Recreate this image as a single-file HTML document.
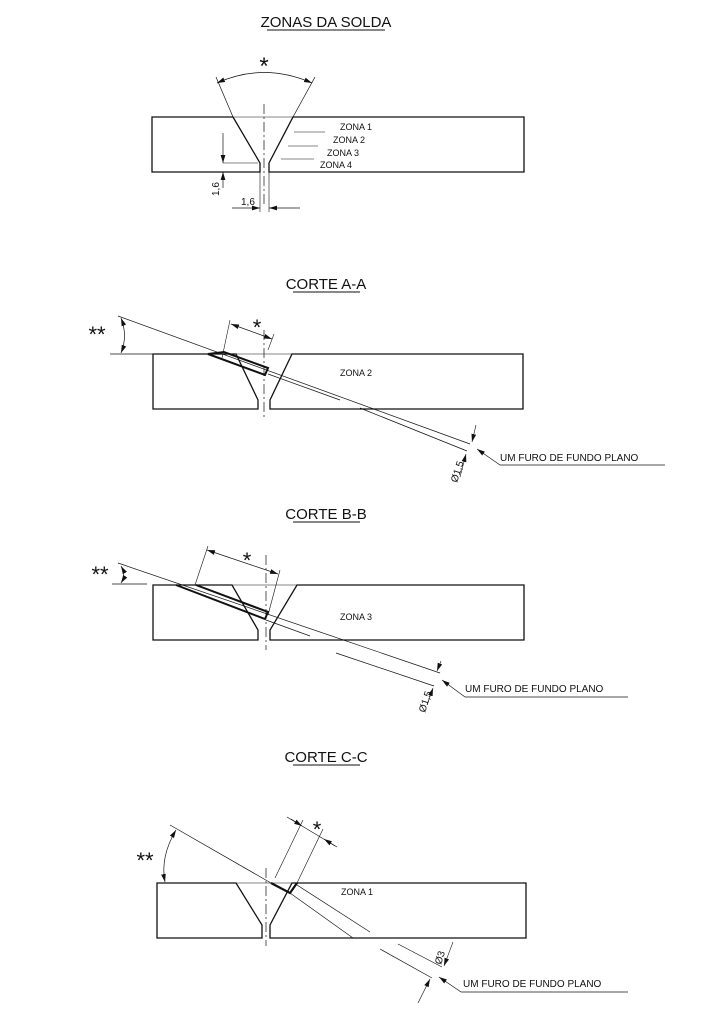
<!DOCTYPE html>
<html><head><meta charset="utf-8"><style>
html,body{margin:0;padding:0;background:#fff;}
svg{display:block;}
text{font-family:"Liberation Sans",Arial,sans-serif;fill:#111;}
</style></head><body>
<svg width="715" height="1026" viewBox="0 0 715 1026" xmlns="http://www.w3.org/2000/svg">
<defs>
<marker id="a" viewBox="0 0 10 6" refX="10" refY="3" markerWidth="8" markerHeight="5" orient="auto-start-reverse" markerUnits="userSpaceOnUse"><path d="M0,0L10,3L0,6z" fill="#111"/></marker>
</defs>
<g stroke="#111" fill="none" stroke-width="1">

<!-- ZONAS DA SOLDA -->
<text x="326" y="27" font-size="15" text-anchor="middle" stroke="none">ZONAS DA SOLDA</text>
<line x1="267" y1="30" x2="385" y2="30" stroke-width="1"/>
<path d="M152,117H233L260,163V172H152Z" stroke-width="1.3"/>
<path d="M293,117H524V172H269V163Z" stroke-width="1.3"/>
<line x1="233" y1="117" x2="293" y2="117" stroke-width="0.6"/>
<line x1="264" y1="104" x2="264" y2="207" stroke-dasharray="10,3,2,3" stroke-width="0.7"/>
<line x1="233" y1="117" x2="216" y2="77" stroke-width="0.7"/>
<line x1="293" y1="117" x2="315" y2="77" stroke-width="0.7"/>
<path d="M217,83 Q264,62 312,83" marker-start="url(#a)" marker-end="url(#a)" stroke-width="0.8"/>
<text x="264" y="74" font-size="24" text-anchor="middle" stroke="none">*</text>
<line x1="294" y1="132" x2="325" y2="132" stroke-width="0.6"/>
<line x1="288" y1="146" x2="318" y2="146" stroke-width="0.6"/>
<line x1="281" y1="159" x2="314" y2="159" stroke-width="0.6"/>
<text x="340" y="130" font-size="9" stroke="none">ZONA 1</text>
<text x="333" y="143" font-size="9" stroke="none">ZONA 2</text>
<text x="327" y="156" font-size="9" stroke="none">ZONA 3</text>
<text x="320" y="168" font-size="9" stroke="none">ZONA 4</text>
<line x1="223" y1="133" x2="223" y2="163" marker-end="url(#a)" stroke-width="0.7"/>
<line x1="223" y1="163" x2="258" y2="163" stroke-width="0.6"/>
<line x1="223" y1="188" x2="223" y2="172" marker-end="url(#a)" stroke-width="0.7"/>
<text transform="translate(219,196) rotate(-90)" font-size="10" stroke="none">1,6</text>
<line x1="260" y1="172" x2="260" y2="212" stroke-width="0.6"/>
<line x1="269" y1="172" x2="269" y2="212" stroke-width="0.6"/>
<line x1="232" y1="208" x2="260" y2="208" marker-end="url(#a)" stroke-width="0.7"/>
<line x1="300" y1="208" x2="269" y2="208" marker-end="url(#a)" stroke-width="0.7"/>
<text x="241" y="205" font-size="10" stroke="none">1,6</text>

<!-- CORTE A-A -->
<text x="326" y="289" font-size="15" text-anchor="middle" stroke="none">CORTE  A-A</text>
<line x1="293" y1="292" x2="360" y2="292"/>
<path d="M153,354H236L258,400V409H153Z" stroke-width="1.3"/>
<path d="M292,354H523V409H270V400Z" stroke-width="1.3"/>
<line x1="236" y1="354" x2="292" y2="354" stroke-width="0.6"/>
<line x1="264" y1="330" x2="264" y2="417" stroke-dasharray="10,3,2,3" stroke-width="0.7"/>
<line x1="110" y1="354" x2="160" y2="354" stroke-width="0.7"/>
<line x1="118" y1="316" x2="470" y2="444" stroke-width="0.7"/>
<line x1="268" y1="374" x2="340" y2="400" stroke-width="0.7"/>
<line x1="360" y1="408" x2="467" y2="451" stroke-width="0.7"/>
<path d="M121,318 Q128,336 121,353" marker-start="url(#a)" marker-end="url(#a)" stroke-width="0.7"/>
<text x="97" y="342" font-size="22" text-anchor="middle" stroke="none">**</text>
<path d="M208,354L265,375L268,368L224,352Z" stroke-width="2"/>
<line x1="222" y1="358" x2="230" y2="320" stroke-width="0.6"/>
<line x1="268" y1="350" x2="274" y2="334" stroke-width="0.6"/>
<line x1="231" y1="324" x2="272" y2="339" marker-start="url(#a)" marker-end="url(#a)" stroke-width="0.7"/>
<text x="257" y="335" font-size="22" text-anchor="middle" stroke="none">*</text>
<text x="340" y="376" font-size="9" stroke="none">ZONA 2</text>
<line x1="476" y1="425" x2="472" y2="442" marker-end="url(#a)" stroke-width="0.6"/>
<line x1="460" y1="477" x2="466" y2="454" marker-end="url(#a)" stroke-width="0.6"/>
<text transform="translate(457,483) rotate(-72)" font-size="10" stroke="none">Ø1,5</text>
<path d="M500,465L477,449" marker-end="url(#a)" stroke-width="0.7"/>
<line x1="500" y1="465" x2="665" y2="465" stroke-width="0.7"/>
<text x="500" y="461" font-size="10" stroke="none">UM FURO DE FUNDO PLANO</text>

<!-- CORTE B-B -->
<text x="326" y="519" font-size="15" text-anchor="middle" stroke="none">CORTE  B-B</text>
<line x1="293" y1="522" x2="360" y2="522"/>
<path d="M153,585H232L258,630V640H153Z" stroke-width="1.3"/>
<path d="M297,585H524V640H270V630Z" stroke-width="1.3"/>
<line x1="232" y1="585" x2="297" y2="585" stroke-width="0.6"/>
<line x1="266" y1="555" x2="266" y2="650" stroke-dasharray="10,3,2,3" stroke-width="0.7"/>
<line x1="112" y1="584" x2="147" y2="584" stroke-width="0.7"/>
<line x1="118" y1="563" x2="440" y2="673" stroke-width="0.7"/>
<line x1="266" y1="620" x2="310" y2="636" stroke-width="0.7"/>
<line x1="336" y1="653" x2="434" y2="686" stroke-width="0.7"/>
<path d="M121,566 Q126,575 121,583" marker-start="url(#a)" marker-end="url(#a)" stroke-width="0.7"/>
<text x="100" y="582" font-size="22" text-anchor="middle" stroke="none">**</text>
<path d="M176,585L265,619L268,612L196,585" stroke-width="2"/>
<line x1="195" y1="585" x2="208" y2="546" stroke-width="0.6"/>
<line x1="268" y1="615" x2="280" y2="570" stroke-width="0.6"/>
<line x1="207" y1="550" x2="278" y2="574" marker-start="url(#a)" marker-end="url(#a)" stroke-width="0.7"/>
<text x="247" y="568" font-size="22" text-anchor="middle" stroke="none">*</text>
<text x="340" y="620" font-size="9" stroke="none">ZONA 3</text>
<line x1="441" y1="661" x2="437" y2="671" marker-end="url(#a)" stroke-width="0.6"/>
<line x1="427" y1="705" x2="433" y2="688" marker-end="url(#a)" stroke-width="0.6"/>
<text transform="translate(425,713) rotate(-72)" font-size="10" stroke="none">Ø1,5</text>
<path d="M465,697L442,680" marker-end="url(#a)" stroke-width="0.7"/>
<line x1="465" y1="697" x2="628" y2="697" stroke-width="0.7"/>
<text x="465" y="692" font-size="10" stroke="none">UM FURO DE FUNDO PLANO</text>

<!-- CORTE C-C -->
<text x="326" y="762" font-size="15" text-anchor="middle" stroke="none">CORTE  C-C</text>
<line x1="293" y1="765" x2="360" y2="765"/>
<path d="M157,883H236L262,925V938H157Z" stroke-width="1.3"/>
<path d="M292,883H526V938H270V925Z" stroke-width="1.3"/>
<line x1="236" y1="883" x2="292" y2="883" stroke-width="0.6"/>
<line x1="266" y1="868" x2="266" y2="946" stroke-dasharray="10,3,2,3" stroke-width="0.7"/>
<line x1="170" y1="825" x2="271" y2="883" stroke-width="0.7"/>
<path d="M271,883L290,893L297,883" stroke-width="2.2"/>
<line x1="297" y1="885" x2="370" y2="932" stroke-width="0.7"/>
<line x1="290" y1="893" x2="353" y2="938" stroke-width="0.7"/>
<path d="M176,830 Q160,857 165,882" marker-start="url(#a)" marker-end="url(#a)" stroke-width="0.7"/>
<text x="145" y="868" font-size="22" text-anchor="middle" stroke="none">**</text>
<line x1="275" y1="878" x2="303" y2="820" stroke-width="0.6"/>
<line x1="297" y1="883" x2="323" y2="829" stroke-width="0.6"/>
<line x1="287" y1="817" x2="337" y2="847" stroke-width="0.7"/>
<line x1="291" y1="819" x2="302" y2="826" marker-end="url(#a)" stroke-width="0.7"/>
<line x1="335" y1="846" x2="324" y2="839" marker-end="url(#a)" stroke-width="0.7"/>
<text x="317" y="837" font-size="22" text-anchor="middle" stroke="none">*</text>
<text x="341" y="895" font-size="9" stroke="none">ZONA 1</text>
<line x1="398" y1="944" x2="442" y2="967" stroke-width="0.7"/>
<line x1="380" y1="949" x2="432" y2="978" stroke-width="0.7"/>
<line x1="453" y1="942" x2="444" y2="966" marker-end="url(#a)" stroke-width="0.6"/>
<line x1="418" y1="1003" x2="430" y2="979" marker-end="url(#a)" stroke-width="0.6"/>
<text transform="translate(441,965) rotate(-72)" font-size="10" stroke="none">Ø3</text>
<path d="M461,992L439,977" marker-end="url(#a)" stroke-width="0.7"/>
<line x1="461" y1="992" x2="628" y2="992" stroke-width="0.7"/>
<text x="463" y="987" font-size="10" stroke="none">UM FURO DE FUNDO PLANO</text>
</g>
</svg>
</body></html>
